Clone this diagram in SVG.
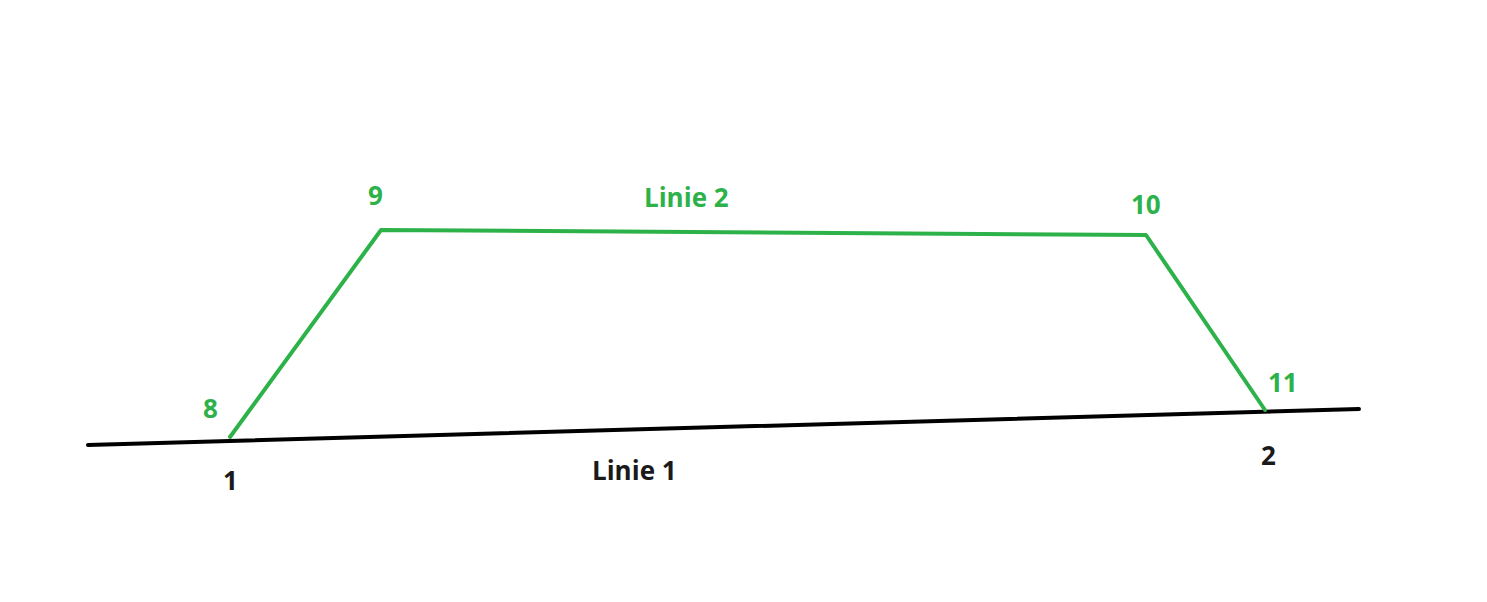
<svg xmlns="http://www.w3.org/2000/svg" width="1487" height="602" viewBox="0 0 1487 602">
<style>
.g{fill:#2db24a;font-family:"Open Sans","Liberation Sans",sans-serif;font-weight:bold;font-size:26px}
.k{fill:#1a1a1a;font-family:"Open Sans","Liberation Sans",sans-serif;font-weight:bold;font-size:26px}
.lg{stroke:#2db24a;stroke-width:4;fill:none;stroke-linejoin:round;stroke-linecap:round}
.lk{stroke:#000;stroke-width:4;fill:none;stroke-linecap:round}
</style>
<rect width="1487" height="602" fill="#fff"/>
<g id="connectors">
<path class="lk" d="M88 445 L1359 409"/>
<path class="lg" d="M230 437 L381 230 L1146 235 L1265 410"/>
</g>
<g id="labels">
<text class="g" x="203" y="418">8</text>
<text class="g" x="368" y="205">9</text>
<text class="g" x="1131" y="214">10</text>
<text class="g" x="1268" y="392">11</text>
<text class="g" x="644" y="207">Linie 2</text>
<text class="k" x="223" y="490">1</text>
<text class="k" x="1261" y="465">2</text>
<text class="k" x="592" y="480">Linie 1</text>
</g>
</svg>
